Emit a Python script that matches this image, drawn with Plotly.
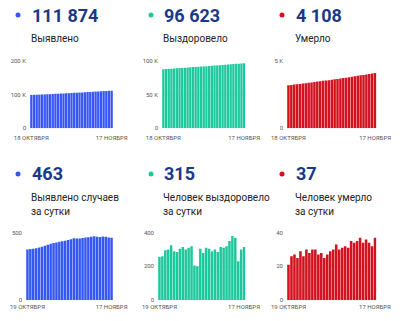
import plotly.graph_objects as go

W, H = 400, 321

# ---- data ----
top_first_label = "18 ОКТЯБРЯ"
bottom_first_label = "19 ОКТЯБРЯ"
last_label = "17 НОЯБРЯ"

cum_cases = [98768, 99143, 99521, 99902, 100287, 100677, 101073, 101476, 101886, 102304, 102728,
             103156, 103588, 104024, 104465, 104911, 105363, 105821, 106277, 106734, 107194,
             107658, 108125, 108595, 109068, 109538, 110006, 110477, 110946, 111411, 111874]
cum_recovered = [87693, 87948, 88208, 88503, 88803, 89128, 89418, 89703, 90008, 90323, 90623,
                 90933, 91253, 91458, 91658, 91963, 92243, 92553, 92858, 93148, 93448,
                 93733, 94048, 94358, 94678, 95028, 95408, 95778, 96008, 96308, 96623]
cum_deaths = [3199, 3220, 3246, 3273, 3298, 3327, 3353, 3383, 3411, 3441, 3471,
              3498, 3526, 3551, 3578, 3607, 3637, 3670, 3700, 3731, 3763,
              3794, 3829, 3863, 3898, 3935, 3969, 4005, 4039, 4071, 4108]
daily_cases = [375, 378, 381, 385, 390, 396, 403, 410, 418, 424,
               428, 432, 436, 441, 446, 452, 458, 456, 457, 460,
               464, 467, 470, 473, 470, 468, 471, 469, 465, 463]
daily_recovered = [255, 260, 295, 300, 325, 290, 285, 305, 315, 300,
                   310, 320, 205, 200, 305, 280, 310, 305, 290, 300,
                   285, 315, 310, 320, 350, 380, 370, 230, 300, 315]
daily_deaths = [21, 26, 27, 25, 29, 26, 30, 28, 30, 30,
                27, 28, 25, 27, 29, 30, 33, 30, 31, 32,
                31, 35, 34, 35, 37, 34, 36, 34, 32, 37]

titles = ["111 874", "96 623", "4 108", "463", "315", "37"]
subtitles = [["Выявлено"], ["Выздоровело"], ["Умерло"],
             ["Выявлено случаев", "за сутки"], ["Человек выздоровело", "за сутки"],
             ["Человек умерло", "за сутки"]]
y_tickvals = [[0, 100000, 200000], [0, 50000, 100000], [0, 5000],
              [0, 500], [0, 200, 400], [0, 20, 40]]
y_ticktext = [["0", "100 K", "200 K"], ["0", "50 K", "100 K"], ["0", "5 K"],
              ["0", "500"], ["0", "200", "400"], ["0", "20", "40"]]
series = [cum_cases, cum_recovered, cum_deaths, daily_cases, daily_recovered, daily_deaths]

BLUE, GREEN, RED = "#3558f3", "#1dc99c", "#d3111f"
colors = [BLUE, GREEN, RED, BLUE, GREEN, RED]
NAVY = "#1b398a"
FONT = "Roboto"

# layout geometry (pixels)
plot_x = [(30, 113), (162, 245.5), (287, 376.5), (26, 113), (158, 245.5), (287, 376.5)]
plot_y = [(61, 128.3)] * 3 + [(232.7, 300)] * 3
x_standoff = [5, 5, 5, 2, 2, 2]
dot_x = [18, 151, 282, 18, 151, 282]
text_x = [30, 162, 294, 30, 162, 294]
row_title_y = [15, 15, 15, 174, 174, 174]
row_sub_y = [38, 38, 38, 197.5, 197.5, 197.5]

def px(x):
    return x / W

def py(y):
    return 1 - y / H

fig = go.Figure()
annotations = []
shapes = []
layout_axes = {}

for i in range(6):
    vals = series[i]
    n = len(vals)
    idx = list(range(n))
    k = i + 1
    xa = "x" if k == 1 else f"x{k}"
    ya = "y" if k == 1 else f"y{k}"
    fig.add_trace(go.Bar(x=idx, y=vals, xaxis=xa, yaxis=ya,
                         marker=dict(color=colors[i], line=dict(width=0)),
                         hoverinfo="y", showlegend=False))
    first = top_first_label if i < 3 else bottom_first_label
    layout_axes["xaxis" if k == 1 else f"xaxis{k}"] = dict(
        domain=[px(plot_x[i][0]), px(plot_x[i][1])],
        anchor=ya, range=[-0.5, n - 0.5],
        tickvals=[0, n - 1], ticktext=[first, last_label],
        tickfont=dict(size=6, color="#555", family=FONT),
        ticklabelstandoff=x_standoff[i], automargin=False,
        showgrid=False, showline=False, zeroline=False, ticks="", fixedrange=True)
    layout_axes["yaxis" if k == 1 else f"yaxis{k}"] = dict(
        domain=[py(plot_y[i][1]), py(plot_y[i][0])],
        anchor=xa, range=[0, y_tickvals[i][-1]],
        tickvals=y_tickvals[i], ticktext=y_ticktext[i],
        tickfont=dict(size=6, color="#555", family=FONT),
        ticklabelstandoff=3, automargin=False,
        showgrid=True, gridcolor="#ececec", gridwidth=1,
        showline=False, zeroline=False, ticks="", fixedrange=True)

    # dot
    r = 2.5
    shapes.append(dict(type="circle", xref="paper", yref="paper",
                       x0=px(dot_x[i] - r), x1=px(dot_x[i] + r),
                       y0=py(row_title_y[i] + r), y1=py(row_title_y[i] - r),
                       fillcolor=colors[i], line=dict(width=0)))
    annotations.append(dict(text=f"<b>{titles[i]}</b>", xref="paper", yref="paper",
                            x=px(text_x[i]), y=py(row_title_y[i]),
                            xanchor="left", yanchor="middle", showarrow=False,
                            font=dict(size=18, color=NAVY, family=FONT)))
    for j, line in enumerate(subtitles[i]):
        annotations.append(dict(text=line, xref="paper", yref="paper",
                                x=px(text_x[i] - 1), y=py(row_sub_y[i] + 14 * j),
                                xanchor="left", yanchor="middle", showarrow=False,
                                font=dict(size=10, color="#222", family=FONT)))

fig.update_layout(width=W, height=H, autosize=False,
                  margin=dict(l=0, r=0, t=0, b=0, pad=0),
                  paper_bgcolor="white", plot_bgcolor="white",
                  bargap=0.14, annotations=annotations, shapes=shapes,
                  font=dict(family=FONT), **layout_axes)

fig.write_html("out.html", config={"displayModeBar": False})
